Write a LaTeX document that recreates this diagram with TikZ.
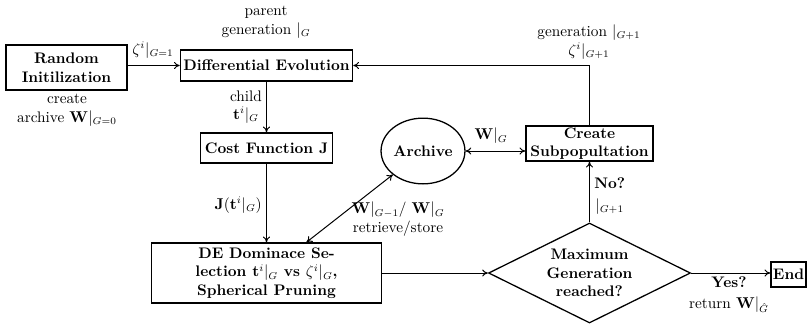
\documentclass[tikz,border=0pt]{standalone}
\usetikzlibrary{shapes.geometric,arrows.meta}
\begin{document}
\begin{tikzpicture}[x=0.7pt,y=-0.7pt,
  fs/.style={font=\fontsize{10.7}{13}\selectfont},
  box/.style={draw,line width=1.1pt,inner sep=2pt,align=center,font=\fontsize{10.7}{13}\selectfont\bfseries},
  conn/.style={line width=0.7pt,-{To[length=4pt,width=5pt]}},
  biconn/.style={line width=0.7pt,{To[length=4pt,width=5pt]}-{To[length=4pt,width=5pt]}},
  lbl/.style={align=center,inner sep=0pt,fs}]
\useasboundingbox (0,0) rectangle (807,326);
\node[box,minimum width=84.7pt,minimum height=31.5pt] (rand) at (66.5,67.5) {Random\\Initilization};
\node[box,minimum width=120.4pt,minimum height=21.7pt] (de) at (266.5,65.5) {Differential Evolution};
\node[box,minimum width=92.4pt,minimum height=21pt] (cost) at (266.5,148) {Cost Function J};
\node[box,minimum width=161pt,minimum height=42pt,inner sep=1pt] (dedom) at (266.5,273) {DE Dominace Se-\\lection $\mathbf{t}^i|_G$ vs $\zeta^i|_G$,\\Spherical Pruning};
\node[draw,line width=0.9pt,ellipse,minimum width=51pt,minimum height=46pt,inner sep=0pt,font=\fontsize{10.7}{13}\selectfont\bfseries] (arch) at (423,151) {Archive};
\node[box,minimum width=88.9pt,minimum height=23.1pt,inner sep=1pt] (create) at (589.5,143.5) {Create\\Subpopultation};
\node[draw,line width=0.9pt,diamond,aspect=2,minimum width=141.4pt,minimum height=70pt,inner sep=0pt,align=center,font=\fontsize{10.7}{13}\selectfont\bfseries] (diam) at (589.5,273) {Maximum\\Generation\\reached?};
\node[box,minimum width=24.5pt,minimum height=17.5pt,inner sep=1pt] (end) at (788.5,274.5) {End};

\draw[conn] (rand.east|-de.west) -- (de.west);
\node[lbl] (l1) at (153,50) {$\zeta^i|_{G=1}$};
\node[lbl] (l2) at (266,22) {parent\\generation $|_G$};
\node[lbl] (l3) at (67,110) {create\\archive $\mathbf{W}|_{G=0}$};
\draw[conn] (de) -- (cost);
\node[lbl] (l4) at (246,107) {child\\$\mathbf{t}^i|_G$};
\draw[conn] (cost) -- (dedom);
\node[lbl,anchor=east] (l5) at (262,205) {$\mathbf{J}(\mathbf{t}^i|_G)$};
\draw[biconn] ([xshift=28pt]dedom.north) -- (arch);
\node[lbl] (l6) at (398,219) {$\mathbf{W}|_{G-1}$/ $\mathbf{W}|_G$\\retrieve/store};
\draw[biconn] (arch.east) -- (arch.east -| create.west);
\node[lbl] (l7) at (491,136) {$\mathbf{W}|_G$};
\draw[conn] (create.north) |- (de.east);
\node[lbl] (l8) at (589,42) {generation $|_{G+1}$\\$\zeta^i|_{G+1}$};
\draw[conn] (dedom.east) -- (diam.west);
\draw[conn] (diam.north) -- (create.south);
\node[lbl,anchor=west] (l9) at (594,196) {\textbf{No?}\\[2pt]$|_{G+1}$};
\draw[conn] (diam.east) -- (diam.east -| end.west);
\node[lbl] (l10) at (729,295) {\textbf{Yes?}\\[1.5pt]return $\mathbf{W}|_{\hat{G}}$};
\end{tikzpicture}
\end{document}
